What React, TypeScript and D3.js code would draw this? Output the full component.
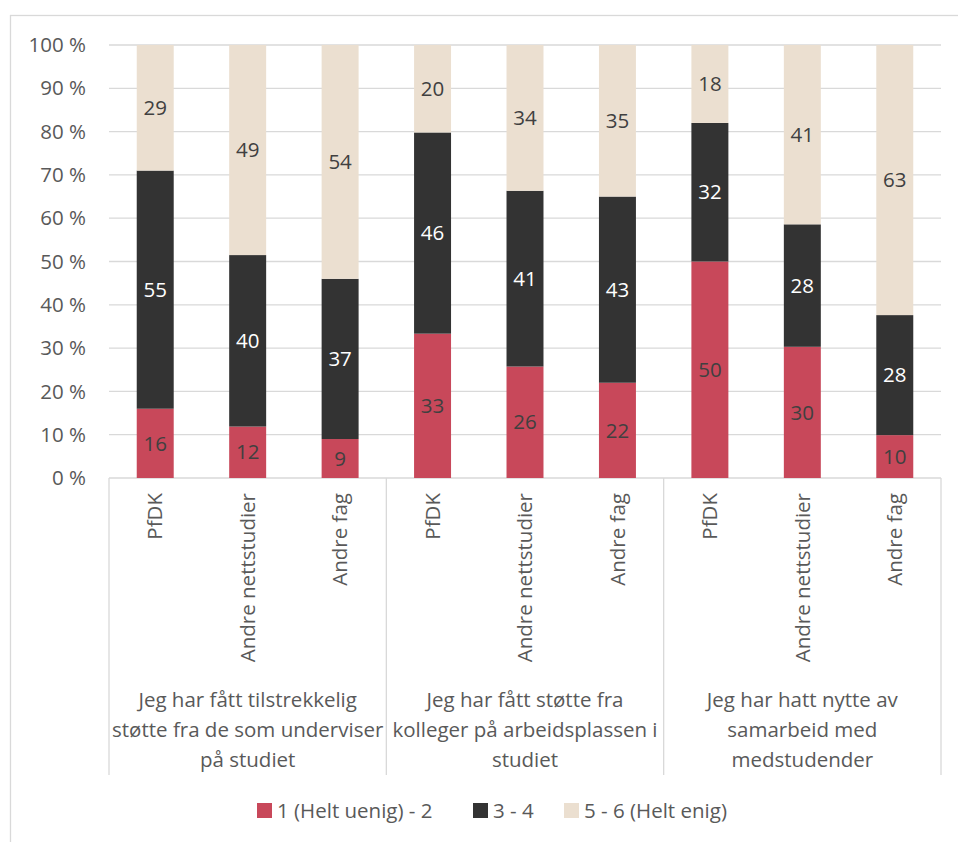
import React from "react";
import * as d3 from "d3";

// Survey statements (x-axis groups), split across lines as drawn
const groupLabels: string[][] = [
  ["Jeg har fått tilstrekkelig", "støtte fra de som underviser", "på studiet"],
  ["Jeg har fått støtte fra", "kolleger på arbeidsplassen i", "studiet"],
  ["Jeg har hatt nytte av", "samarbeid med", "medstudender"],
];
const subCategories = ["PfDK", "Andre nettstudier", "Andre fag"];
const seriesNames = ["1 (Helt uenig) - 2", "3 - 4", "5 - 6 (Helt enig)"];

// Percent per answer band, in group order (3 groups x 3 sub-categories)
const lowValues = [16, 12, 9, 33, 26, 22, 50, 30, 10];
const midValues = [55, 40, 37, 46, 41, 43, 32, 28, 28];
const highValues = [29, 49, 54, 20, 34, 35, 18, 41, 63];

const yTicks = [0, 10, 20, 30, 40, 50, 60, 70, 80, 90, 100];

const colors = ["#C8485A", "#333333", "#EBDFD0"];
const labelColors = ["#404040", "#FFFFFF", "#404040"];

const W = 958;
const H = 842;
const plot = { left: 109, right: 941, top: 45, bottom: 478 };
const axisColor = "#D9D9D9";
const textColor = "#595959";
const font = "'Open Sans', sans-serif";
const fontSize = 20.5;

type Row = { key: string; low: number; mid: number; high: number };

export default function App() {
  const rows: Row[] = [];
  groupLabels.forEach((_, g) => {
    subCategories.forEach((s, i) => {
      const idx = g * subCategories.length + i;
      rows.push({ key: `${g}-${s}`, low: lowValues[idx], mid: midValues[idx], high: highValues[idx] });
    });
  });

  const keys = ["low", "mid", "high"] as const;
  const stacked = d3
    .stack<Row>()
    .keys(keys as unknown as string[])
    .offset(d3.stackOffsetExpand)(rows);

  const x = d3
    .scaleBand<string>()
    .domain(rows.map((r) => r.key))
    .range([plot.left, plot.right])
    .paddingInner(0.6)
    .paddingOuter(0.3);

  const y = d3.scaleLinear().domain([0, 1]).range([plot.bottom, plot.top]);

  const groupWidth = (plot.right - plot.left) / groupLabels.length;
  const separators = d3.range(groupLabels.length + 1).map((i) => plot.left + i * groupWidth);

  const legendItems = [
    { x: 257, label: seriesNames[0], color: colors[0] },
    { x: 473, label: seriesNames[1], color: colors[1] },
    { x: 564, label: seriesNames[2], color: colors[2] },
  ];

  return (
    <svg
      width={W}
      height={H}
      style={{ position: "absolute", left: 0, top: 0, background: "#fff" }}
      fontFamily={font}
      fontSize={fontSize}
    >
      <rect x={10.5} y={15.5} width={980} height={860} fill="#fff" stroke={axisColor} strokeWidth={1.3} />

      {/* gridlines and y tick labels */}
      {yTicks.map((t) => (
        <g key={t}>
          <line
            x1={plot.left}
            x2={plot.right}
            y1={y(t / 100)}
            y2={y(t / 100)}
            stroke={axisColor}
            strokeWidth={1.3}
          />
          <text x={86} y={y(t / 100)} dy="0.35em" textAnchor="end" fill={textColor}>
            {`${t} %`}
          </text>
        </g>
      ))}

      {/* group separators below the axis */}
      {separators.map((sx, i) => (
        <line key={i} x1={sx} x2={sx} y1={plot.bottom} y2={775} stroke={axisColor} strokeWidth={1.3} />
      ))}

      {/* stacked bars */}
      {stacked.map((layer, li) => (
        <g key={layer.key}>
          {layer.map((d, i) => (
            <rect
              key={i}
              x={x(rows[i].key)!}
              y={y(d[1])}
              width={x.bandwidth()}
              height={y(d[0]) - y(d[1])}
              fill={colors[li]}
            />
          ))}
        </g>
      ))}

      {/* value labels */}
      {stacked.map((layer, li) => (
        <g key={`lab-${layer.key}`}>
          {layer.map((d, i) => (
            <text
              key={i}
              x={x(rows[i].key)! + x.bandwidth() / 2}
              y={(y(d[0]) + y(d[1])) / 2}
              dy="0.35em"
              textAnchor="middle"
              fill={labelColors[li]}
            >
              {(rows[i] as any)[keys[li]]}
            </text>
          ))}
        </g>
      ))}

      {/* sub-category labels, rotated */}
      {rows.map((r, i) => {
        const cx = x(r.key)! + x.bandwidth() / 2;
        return (
          <text
            key={r.key}
            transform={`translate(${cx},493) rotate(-90)`}
            dy="0.35em"
            textAnchor="end"
            fill={textColor}
          >
            {subCategories[i % subCategories.length]}
          </text>
        );
      })}

      {/* group labels */}
      {groupLabels.map((lines, g) => (
        <text key={g} textAnchor="middle" fill={textColor}>
          {lines.map((line, li) => (
            <tspan key={li} x={plot.left + (g + 0.5) * groupWidth} y={700 + li * 30} dy="0.35em">
              {line}
            </tspan>
          ))}
        </text>
      ))}

      {/* legend */}
      {legendItems.map((it) => (
        <g key={it.label}>
          <rect x={it.x} y={803} width={15} height={15} fill={it.color} />
          <text x={it.x + 20} y={810.5} dy="0.35em" fill={textColor}>
            {it.label}
          </text>
        </g>
      ))}
    </svg>
  );
}
